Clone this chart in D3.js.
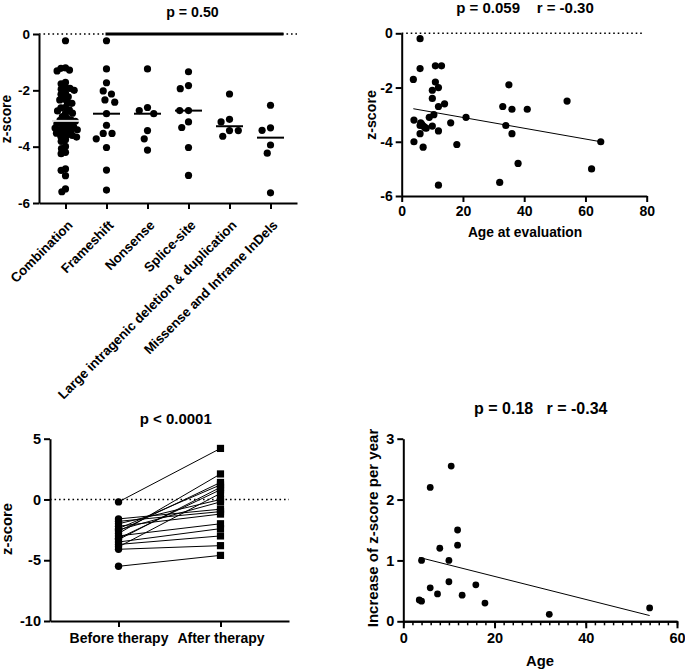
<!DOCTYPE html>
<html><head><meta charset="utf-8">
<script src="https://cdn.jsdelivr.net/npm/d3@7"></script>
<style>
body{margin:0;background:#fff;}
svg text{font-family:"Liberation Sans",Arial,sans-serif;font-weight:bold;fill:#000;white-space:pre;}
</style></head><body>
<svg id="c" width="685" height="671"></svg>
<script>
// ---------- Panel A: z-score by mutation type ----------
const mutationCategories = ["Combination","Frameshift","Nonsense","Splice-site","Large intragenic deletion & duplication","Missense and Inframe InDels"];
const combinationZ = [-0.24,-1.2,-1.22,-1.28,-1.31,-1.72,-1.77,-1.9,-1.93,-1.96,-2.0,-2.1,-2.14,-2.23,-2.31,-2.34,-2.43,-2.46,-2.6,-2.62,-2.69,-2.73,-2.81,-2.81,-2.93,-2.99,-3.05,-3.07,-3.1,-3.15,-3.19,-3.22,-3.28,-3.3,-3.34,-3.38,-3.4,-3.4,-3.45,-3.5,-3.52,-3.58,-3.6,-3.64,-3.66,-3.75,-3.81,-3.99,-4.07,-4.2,-4.25,-4.79,-4.84,-5.03,-5.5,-5.6];
const frameshiftZ = [-0.24,-1.24,-1.73,-2.02,-2.13,-2.34,-2.42,-2.83,-3.24,-3.53,-3.53,-3.72,-4.03,-4.83,-5.54];
const nonsenseZ = [-1.24,-2.61,-2.72,-2.83,-3.43,-3.72,-4.12];
const spliceSiteZ = [-1.34,-1.83,-1.94,-2.72,-2.72,-3.12,-3.32,-4.03,-5.02];
const largeDelDupZ = [-2.13,-3.03,-3.12,-3.43,-3.43,-3.63];
const missenseZ = [-2.53,-3.33,-3.42,-3.94,-4.23,-5.64];
const zTicksA = [0,-2,-4,-6];
const titleA = "p = 0.50";

// ---------- Panel B: z-score vs age at evaluation ----------
const ageAtEvaluation = [6,6,3.8,11,13,11,12,10,10,14,12,4,9,10.5,6.2,7.1,7.6,6,6.5,10,6,12,16,21,4,7,18,12,32,33,35,36,34,36,38,41,54,65,62,8];
const zAtEvaluation = [-0.2,-1.3,-1.7,-1.2,-1.2,-1.8,-2.0,-2.1,-2.4,-2.6,-2.7,-3.2,-3.1,-3.0,-3.3,-3.42,-3.48,-3.4,-3.35,-3.42,-3.7,-3.6,-3.3,-3.1,-4.0,-4.2,-4.1,-5.6,-5.5,-2.7,-1.9,-2.8,-3.4,-3.7,-4.8,-2.8,-2.5,-4.0,-5.0,-3.5];
const zTicksB = [0,-2,-4,-6];
const ageTicksB = [0,20,40,60,80];
const titleB = "p = 0.059    r = -0.30";

// ---------- Panel C: before / after therapy ----------
const therapyLabels = ["Before therapy","After therapy"];
const zBeforeTherapy = [-0.2,-1.6,-1.8,-2.0,-2.2,-2.4,-2.5,-2.6,-2.8,-3.0,-3.2,-3.3,-3.5,-3.7,-3.9,-4.1,-5.5];
const zAfterTherapy  = [4.2,-0.8,-1.0,0.0,-1.2,1.2,-0.2,1.4,2.1,-2.0,0.8,1.0,-2.4,-3.0,0.5,-3.8,-4.6];
const zTicksC = [5,0,-5,-10];
const titleC = "p < 0.0001";

// ---------- Panel D: increase per year vs age ----------
const ageAtTherapy = [3.5,4,4,5.9,5.9,7.5,8,10,10,10.5,11.9,11.9,12.9,15.9,17.9,32,54];
const increasePerYear = [0.35,0.33,1.0,2.2,0.55,0.45,1.2,1.0,0.65,2.55,1.5,1.25,0.43,0.6,0.3,0.115,0.22];
const incTicksD = [0,1,2,3];
const ageTicksD = [0,20,40,60];
const ageMinorTicksD = d3.range(0,61,2);
const titleD = "p = 0.18   r = -0.34";

// ================= drawing =================
const svg = d3.select("#c");
const FONT = '"Liberation Sans",Arial,sans-serif';

function styleAxis(g, fs){
  g.attr("font-family", FONT).attr("font-size", fs).attr("font-weight","bold");
  g.select(".domain").attr("stroke","#000").attr("stroke-width",2);
  g.selectAll(".tick line").attr("stroke","#000").attr("stroke-width",2);
  g.selectAll(".tick text").attr("fill","#000");
}
function text(x,y,s,fs,opts={}){
  const t = svg.append("text").attr("x",x).attr("y",y).attr("font-size",fs)
    .attr("text-anchor", opts.anchor||"middle").text(s);
  if (opts.rotate!==undefined) t.attr("transform",`rotate(${opts.rotate},${x},${y})`);
  return t;
}
function dottedZero(x0,x1,y){
  svg.append("line").attr("x1",x0).attr("x2",x1).attr("y1",y).attr("y2",y)
    .attr("stroke","#000").attr("stroke-width",1.6).attr("stroke-dasharray","1.6,2.9");
}
function linFit(xs,ys){
  const mx=d3.mean(xs), my=d3.mean(ys);
  let sxy=0,sxx=0; xs.forEach((x,i)=>{sxy+=(x-mx)*(ys[i]-my); sxx+=(x-mx)*(x-mx);});
  const b=sxy/sxx; return {a:my-b*mx,b};
}
function swarm(values, y, D){
  const pts = values.map(v=>({v, py:y(v)})).sort((a,b)=>a.py-b.py);
  const placed=[];
  for(const p of pts){
    const blocks = placed.filter(q=>Math.abs(q.py-p.py)<D).map(q=>{
      const w=Math.sqrt(D*D-(q.py-p.py)**2); return [q.dx-w,q.dx+w];});
    const cands=[0]; blocks.forEach(b=>cands.push(b[0],b[1]));
    cands.sort((a,b)=>Math.abs(a)-Math.abs(b));
    p.dx = cands.find(c=>blocks.every(b=>c<=b[0]+1e-6||c>=b[1]-1e-6));
    placed.push(p);
  }
  return pts;
}

// ---- Panel A ----
{
  const groups = [combinationZ,frameshiftZ,nonsenseZ,spliceSiteZ,largeDelDupZ,missenseZ];
  const x = d3.scalePoint().domain(mutationCategories).range([39,297]).padding(0.646);
  const y = d3.scaleLinear().domain([-6,0]).range([203,34]);
  dottedZero(39,297,y(0));
  const r=3.6;
  groups.forEach((vals,i)=>{
    const cx = x(mutationCategories[i]);
    const pts = swarm(vals,y,i===0?4.6:8.8);
    svg.append("g").selectAll("circle").data(pts).join("circle")
      .attr("cx",d=>cx+d.dx).attr("cy",d=>d.py).attr("r",r).attr("fill","#000");
    const med = d3.median(vals);
    svg.append("line").attr("x1",cx-13.5).attr("x2",cx+13.5).attr("y1",y(med)).attr("y2",y(med))
      .attr("stroke",i===0?"#ddd":"#000").attr("stroke-width",2);
  });
  // significance bar
  svg.append("line").attr("x1",x(mutationCategories[1])-1).attr("x2",x(mutationCategories[5])+13)
    .attr("y1",y(0)).attr("y2",y(0)).attr("stroke","#000").attr("stroke-width",3);
  const gy = svg.append("g").attr("transform","translate(39,0)")
    .call(d3.axisLeft(y).tickValues(zTicksA).tickFormat(d=>String(d)).tickSize(6).tickSizeOuter(0).tickPadding(3));
  styleAxis(gy,13.5);
  const gx = svg.append("g").attr("transform","translate(0,203)")
    .call(d3.axisBottom(x).tickSize(6).tickSizeOuter(0).tickFormat(""));
  styleAxis(gx,13.5);
  mutationCategories.forEach(c=>{
    const tx = x(c)+8, ty = 226;
    svg.append("text").attr("font-size",13.3).attr("text-anchor","end")
      .attr("transform",`translate(${tx},${ty}) rotate(-45)`).text(c);
  });
  text(11,119,"z-score",13.8,{rotate:-90});
  text(192.5,16.5,titleA,14.2);
}

// ---- Panel B ----
{
  const x = d3.scaleLinear().domain([0,80]).range([401.7,646.7]);
  const y = d3.scaleLinear().domain([-6,0]).range([196,33.3]);
  dottedZero(401.7,643,y(0));
  svg.append("g").selectAll("circle").data(ageAtEvaluation).join("circle")
    .attr("cx",d=>x(d)).attr("cy",(d,i)=>y(zAtEvaluation[i])).attr("r",3.6).attr("fill","#000");
  const f = linFit(ageAtEvaluation,zAtEvaluation);
  const x0=d3.min(ageAtEvaluation), x1=d3.max(ageAtEvaluation);
  svg.append("line").attr("x1",x(x0)).attr("x2",x(x1)).attr("y1",y(f.a+f.b*x0)).attr("y2",y(f.a+f.b*x1))
    .attr("stroke","#000").attr("stroke-width",1);
  const gy = svg.append("g").attr("transform","translate(401.7,0)")
    .call(d3.axisLeft(y).tickValues(zTicksB).tickFormat(d=>String(d)).tickSize(6).tickSizeOuter(0).tickPadding(3));
  styleAxis(gy,14);
  const gx = svg.append("g").attr("transform","translate(0,196)")
    .call(d3.axisBottom(x).tickValues(ageTicksB).tickFormat(d=>String(d)).tickSize(6).tickSizeOuter(0).tickPadding(4));
  styleAxis(gx,14);
  text(375.5,115,"z-score",14.2,{rotate:-90});
  text(525,236.5,"Age at evaluation",13.8);
  text(525,12.5,titleB,15);
}

// ---- Panel C ----
{
  const x = d3.scalePoint().domain(therapyLabels).range([50,289]).padding(0.672);
  const y = d3.scaleLinear().domain([-10,5]).range([621,438.7]);
  dottedZero(50,289,y(0));
  const xb=x(therapyLabels[0]), xa=x(therapyLabels[1]);
  svg.append("g").selectAll("line").data(zBeforeTherapy).join("line")
    .attr("x1",xb).attr("x2",xa).attr("y1",d=>y(d)).attr("y2",(d,i)=>y(zAfterTherapy[i]))
    .attr("stroke","#000").attr("stroke-width",1);
  svg.append("g").selectAll("circle").data(zBeforeTherapy).join("circle")
    .attr("cx",xb).attr("cy",d=>y(d)).attr("r",3.7).attr("fill","#000");
  const s=7.2;
  svg.append("g").selectAll("rect").data(zAfterTherapy).join("rect")
    .attr("x",xa-s/2).attr("y",d=>y(d)-s/2).attr("width",s).attr("height",s).attr("fill","#000");
  const gy = svg.append("g").attr("transform","translate(50,0)")
    .call(d3.axisLeft(y).tickValues(zTicksC).tickFormat(d=>String(d)).tickSize(6).tickSizeOuter(0).tickPadding(3));
  styleAxis(gy,14.5);
  const gx = svg.append("g").attr("transform","translate(0,621)")
    .call(d3.axisBottom(x).tickSize(6).tickSizeOuter(0).tickPadding(6));
  styleAxis(gx,14);
  text(12,529,"z-score",14.8,{rotate:-90});
  text(175.7,423.5,titleC,15);
}

// ---- Panel D ----
{
  const x = d3.scaleLinear().domain([0,60]).range([403.3,677]);
  const y = d3.scaleLinear().domain([0,3]).range([621.3,438.7]);
  svg.append("g").selectAll("circle").data(ageAtTherapy).join("circle")
    .attr("cx",d=>x(d)).attr("cy",(d,i)=>y(increasePerYear[i])).attr("r",3.4).attr("fill","#000");
  const f = linFit(ageAtTherapy,increasePerYear);
  const x0=d3.min(ageAtTherapy), x1=d3.max(ageAtTherapy);
  svg.append("line").attr("x1",x(x0)).attr("x2",x(x1)).attr("y1",y(f.a+f.b*x0)).attr("y2",y(f.a+f.b*x1))
    .attr("stroke","#000").attr("stroke-width",1);
  const gy = svg.append("g").attr("transform","translate(403.3,0)")
    .call(d3.axisLeft(y).tickValues(incTicksD).tickFormat(d=>String(d)).tickSize(6).tickSizeOuter(0).tickPadding(3));
  styleAxis(gy,14.5);
  const gm = svg.append("g").attr("transform","translate(0,621.3)")
    .call(d3.axisBottom(x).tickValues(ageMinorTicksD).tickFormat("").tickSize(4).tickSizeOuter(0));
  styleAxis(gm,14.5);
  const gx = svg.append("g").attr("transform","translate(0,621.3)")
    .call(d3.axisBottom(x).tickValues(ageTicksD).tickFormat(d=>String(d)).tickSize(7).tickSizeOuter(0).tickPadding(4));
  styleAxis(gx,14.5);
  gm.selectAll(".tick line").attr("stroke-width",1.5);
  text(378,528,"Increase of z-score per year",15,{rotate:-90});
  text(540,666,"Age",14.8);
  text(540.8,414,titleD,16);
}
</script>
</body></html>
